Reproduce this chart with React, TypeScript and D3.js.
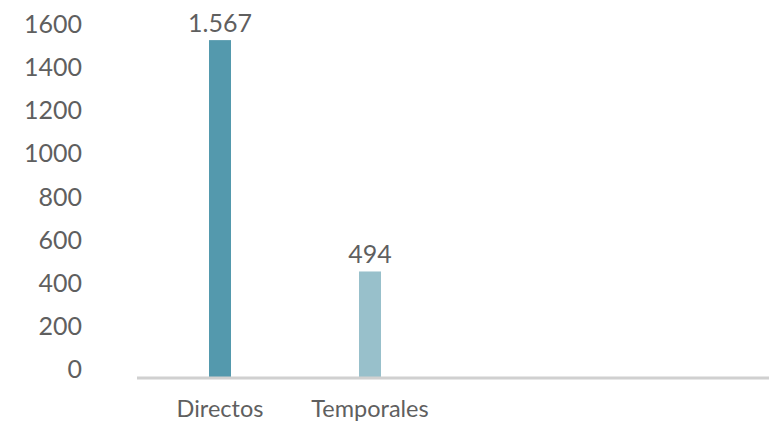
import React from "react";
import * as d3 from "d3";

const categories = ["Directos", "Temporales"];
const values = [1567, 494];
const valueLabels = ["1.567", "494"];
const barColors = ["#5499ad", "#98c0cb"];
const yTicks = [0, 200, 400, 600, 800, 1000, 1200, 1400, 1600];

const W = 769;
const H = 426;
const FONT = "Lato, 'Open Sans', sans-serif";
const TEXT = "#5f5f5f";

export default function App() {
  const y = d3.scaleLinear().domain([0, 1600]).range([378, 33]);
  const x = d3.scaleBand<string>().domain(categories).range([145, 445]).paddingInner(0.853).paddingOuter(0.4265);
  const bw = 22;
  return (
    <svg width={W} height={H} style={{ position: "absolute", left: 0, top: 0 }}>
      <rect width={W} height={H} fill="#fff" />
      {yTicks.map((t) => (
        <text key={t} x={82} y={y(t)} textAnchor="end" fontFamily={FONT} fontSize={25} fontWeight={400} fill={TEXT}>
          {t}
        </text>
      ))}
      {categories.map((c, i) => {
        const cx = (x(c) as number) + x.bandwidth() / 2;
        return (
          <g key={c}>
            <rect x={cx - bw / 2} y={y(values[i])} width={bw} height={y(0) - y(values[i])} fill={barColors[i]} />
            <text x={cx} y={y(values[i]) - 8} textAnchor="middle" fontFamily={FONT} fontSize={25} fontWeight={400} fill={TEXT}>
              {valueLabels[i]}
            </text>
            <text x={cx} y={417} textAnchor="middle" fontFamily={FONT} fontSize={23.5} fontWeight={400} fill={TEXT}>
              {c}
            </text>
          </g>
        );
      })}
      <line x1={137} x2={769} y1={y(0)} y2={y(0)} stroke="#d0d0d0" strokeWidth={3} />
    </svg>
  );
}
